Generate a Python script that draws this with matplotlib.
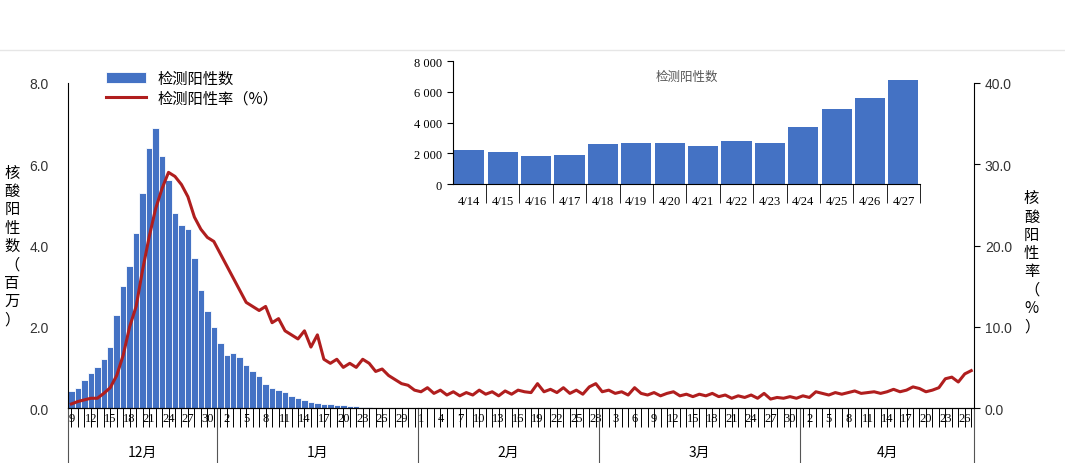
import matplotlib.pyplot as plt
import matplotlib.transforms as mtransforms
import numpy as np
import pandas as pd

plt.rcParams['font.family'] = ['Noto Sans CJK SC', 'DejaVu Sans']

# ── Data ───────────────────────────────────────────────────────────────────────
dates = pd.date_range("2022-12-09", "2023-04-27", freq="D")

# positive count (millions), Dec 9 onward; remaining days are ~0
positive_count = [0.42, 0.5, 0.7, 0.85, 1.0, 1.2, 1.5, 2.3, 3.0, 3.5, 4.3, 5.3, 6.4, 6.9,
                  6.2, 5.6, 4.8, 4.5, 4.4, 3.7, 2.9, 2.4, 2.0,
                  1.6, 1.3, 1.35, 1.25, 1.05, 0.9, 0.8, 0.6, 0.5, 0.45, 0.4, 0.3, 0.25,
                  0.2, 0.15, 0.12, 0.1, 0.1, 0.08, 0.07, 0.05, 0.04, 0.03, 0.02]

rate_dec = [0.5, 0.8, 1.0, 1.2, 1.2, 1.8, 2.5, 4.0, 6.5, 10.0, 12.5, 17.0, 21.0, 24.5,
            27.0, 29.0, 28.5, 27.5, 26.0, 23.5, 22.0, 21.0, 20.5]
rate_jan = [19.0, 17.5, 16.0, 14.5, 13.0, 12.5, 12.0, 12.5, 10.5, 11.0, 9.5, 9.0, 8.5,
            9.5, 7.5, 9.0, 6.0, 5.5, 6.0, 5.0, 5.5, 5.0, 6.0, 5.5, 4.5, 4.8, 4.0, 3.5,
            3.0, 2.8, 2.2]
rate_feb = [2.0, 2.5, 1.8, 2.2, 1.6, 2.0, 1.5, 1.9, 1.6, 2.2, 1.7, 2.0, 1.5, 2.1, 1.7,
            2.2, 2.0, 1.9, 3.0, 2.0, 2.3, 1.9, 2.5, 1.8, 2.2, 1.7, 2.6, 3.0]
rate_mar = [2.0, 2.2, 1.8, 2.0, 1.6, 2.5, 1.8, 1.6, 1.9, 1.5, 1.8, 2.0, 1.5, 1.7, 1.4,
            1.7, 1.5, 1.8, 1.4, 1.6, 1.2, 1.5, 1.3, 1.6, 1.2, 1.8, 1.1, 1.3, 1.2, 1.4, 1.2]
rate_apr = [1.5, 1.3, 2.0, 1.8, 1.6, 1.9, 1.7, 1.9, 2.1, 1.8, 1.9, 2.0, 1.8, 2.0, 2.3,
            2.0, 2.2, 2.6, 2.4, 2.0, 2.2, 2.5, 3.6, 3.8, 3.2, 4.2, 4.6]
positive_rate = rate_dec + rate_jan + rate_feb + rate_mar + rate_apr

inset_labels = ["4/14", "4/15", "4/16", "4/17", "4/18", "4/19", "4/20",
                "4/21", "4/22", "4/23", "4/24", "4/25", "4/26", "4/27"]
inset_values = [2200, 2100, 1800, 1900, 2600, 2650, 2650, 2450, 2800, 2700,
                3700, 4900, 5600, 6750]

months = ["12月", "1月", "2月", "3月", "4月"]

BLUE = "#4472C4"
RED = "#B01E1E"

# ── Figure ─────────────────────────────────────────────────────────────────────
fig = plt.figure(figsize=(10.65, 4.64), dpi=100)
fig.add_artist(plt.Line2D([0, 1], [0.89, 0.89], color="#E6E6E6", lw=1))
ax = fig.add_axes([0.064, 0.1185, 0.851, 0.7005])
ax2 = ax.twinx()

x = np.arange(len(dates))
counts = np.zeros(len(dates))
counts[:len(positive_count)] = positive_count
ax.bar(x, counts, width=1.0, color=BLUE, edgecolor="white", linewidth=0.6,
       label="检测阳性数", zorder=2)
ax2.plot(x, positive_rate, color=RED, lw=2.2, label="检测阳性率（%）")

ax.set_xlim(-0.5, len(dates) - 0.5)
ax.set_ylim(0, 8)
ax2.set_ylim(0, 40)
ax.set_yticks(np.arange(0, 8.1, 2))
ax.set_yticklabels([f"{v:.1f}" for v in np.arange(0, 8.1, 2)], family="Liberation Sans",
                   fontsize=10, color="#333")
ax2.set_yticks(np.arange(0, 40.1, 10))
ax2.set_yticklabels([f"{v:.1f}" for v in np.arange(0, 40.1, 10)], family="Liberation Sans",
                    fontsize=10, color="#333")
for a in (ax, ax2):
    a.spines["top"].set_visible(False)
ax.spines["right"].set_visible(False)
ax2.spines["left"].set_visible(False)
ax.tick_params(axis="y", length=0, pad=14)
ax2.tick_params(axis="y", length=4, direction="out")

# x ticks: every day minor, labels every 3 days
ax.set_xticks(x, minor=True)
major = x[::3]
ax.set_xticks(major)
ax.set_xticklabels([str(dates[i].day) for i in major], family="Liberation Serif", fontsize=9)
ax.tick_params(axis="x", which="both", length=14, direction="out", width=0.7, pad=-11)

# month separators and labels
trans = mtransforms.blended_transform_factory(ax.transData, ax.transAxes)
month_starts = [0] + [i for i in range(1, len(dates)) if dates[i].month != dates[i - 1].month]
bounds = month_starts + [len(dates)]
for b in bounds:
    ax.plot([b - 0.5, b - 0.5], [0, -0.19], color="#555", lw=0.8, transform=trans, clip_on=False)
for m, s, e in zip(months, bounds[:-1], bounds[1:]):
    ax.text((s + e) / 2 - 0.5, -0.135, m, transform=trans, ha="center", va="center", fontsize=10)

# vertical axis titles
ax.text(-0.062, 0.5, "\n".join("核酸阳性数（百万）"), transform=ax.transAxes,
        ha="center", va="center", fontsize=11, linespacing=1.1)
ax2.text(1.063, 0.45, "\n".join("核酸阳性率（%）"), transform=ax.transAxes,
         ha="center", va="center", fontsize=11, linespacing=1.1)

# legend
h1, l1 = ax.get_legend_handles_labels()
h2, l2 = ax2.get_legend_handles_labels()
ax.legend(h1 + h2, l1 + l2, loc="upper left", bbox_to_anchor=(0.035, 1.06), frameon=False,
          fontsize=11, handlelength=2.6, labelspacing=0.2, borderaxespad=0)

# ── Inset ──────────────────────────────────────────────────────────────────────
ins = fig.add_axes([0.425, 0.601, 0.439, 0.265])
ins.bar(np.arange(len(inset_values)), inset_values, width=0.9, color=BLUE)
ins.set_ylim(0, 8000)
ins.set_xlim(-0.5, len(inset_values) - 0.5)
ins.set_yticks(range(0, 8001, 2000))
ins.set_yticklabels(["0", "2 000", "4 000", "6 000", "8 000"], family="Liberation Serif", fontsize=9)
ins.set_xticks(np.arange(len(inset_values)) + 0.5, minor=True)
ins.set_xticks(np.arange(len(inset_values)))
ins.set_xticklabels(inset_labels, family="Liberation Serif", fontsize=9)
ins.tick_params(axis="x", which="major", length=0, pad=8)
ins.tick_params(axis="x", which="minor", length=14)
ins.tick_params(axis="y", length=4)
ins.spines["top"].set_visible(False)
ins.spines["right"].set_visible(False)
ins.patch.set_alpha(0)
ins.text(0.5, 0.93, "检测阳性数", transform=ins.transAxes, ha="center", va="top",
         fontsize=9, color="#555")

fig.savefig("out.png", dpi=100)
